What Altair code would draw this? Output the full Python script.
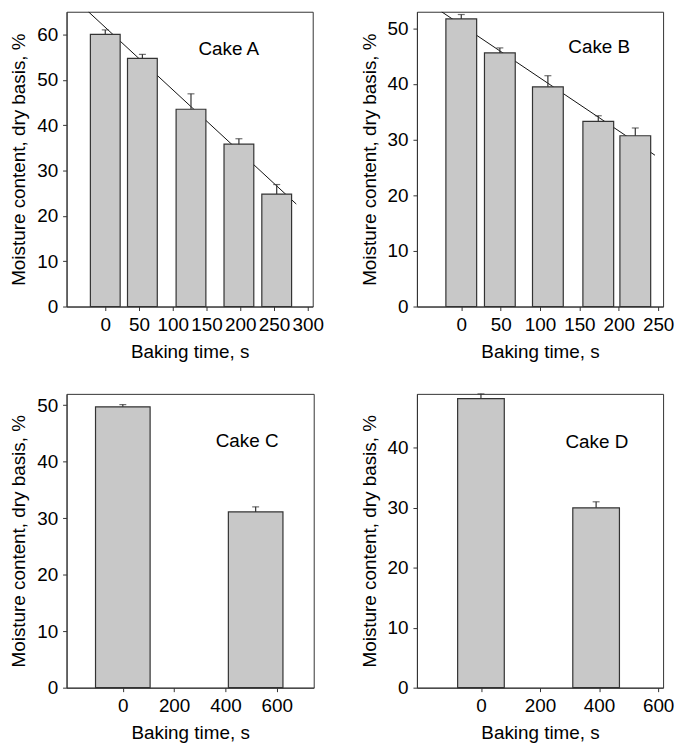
import altair as alt
import pandas as pd

FONT = "Liberation Sans"
INK = "#333333"
BAR_FILL = "#c8c8c8"

# ---- Cake A ----
a_time = [0, 55, 127, 198, 254]
a_moist = [60.0, 54.7, 43.5, 35.8, 24.8]
a_err = [1.0, 0.9, 3.4, 1.2, 2.1]
a_fit_x = [-25, 283]
a_fit_y = [65.0, 22.6]
a_xticks = [0, 50, 100, 150, 200, 250, 300]
a_yticks = [0, 10, 20, 30, 40, 50, 60]

# ---- Cake B ----
b_time = [0, 49, 110, 174, 221]
b_moist = [51.7, 45.6, 39.5, 33.3, 30.7]
b_err = [0.8, 0.9, 2.0, 1.0, 1.4]
b_fit_x = [-25, 246]
b_fit_y = [53.0, 27.2]
b_xticks = [0, 50, 100, 150, 200, 250]
b_yticks = [0, 10, 20, 30, 40, 50]

# ---- Cake C ----
c_time = [0, 518]
c_moist = [49.7, 31.1]
c_err = [0.4, 0.9]
c_xticks = [0, 200, 400, 600]
c_yticks = [0, 10, 20, 30, 40, 50]

# ---- Cake D ----
d_time = [0, 390]
d_moist = [48.2, 30.0]
d_err = [0.8, 1.0]
d_xticks = [0, 200, 400, 600]
d_yticks = [0, 10, 20, 30, 40]

XTITLE = "Baking time, s"
YTITLE = "Moisture content, dry basis, %"
FS = 19


def panel(time, moist, err, label, label_pos, xdom, xticks, ydom, yticks,
          w, h, barw, fit_x=None, fit_y=None):
    df = pd.DataFrame({"t": time, "m": moist,
                       "top": [m + e for m, e in zip(moist, err)]})

    def X(field):
        return alt.X(field, type="quantitative",
                     scale=alt.Scale(domain=xdom, nice=False, zero=False),
                     axis=alt.Axis(values=xticks, title=XTITLE))

    def Y(field):
        return alt.Y(field, type="quantitative",
                     scale=alt.Scale(domain=ydom, nice=False, zero=False),
                     axis=alt.Axis(values=yticks, title=YTITLE))

    layers = []
    if fit_x is not None:
        fdf = pd.DataFrame({"t": fit_x, "m": fit_y})
        layers.append(alt.Chart(fdf).mark_line(color="#111111", strokeWidth=1, clip=True)
                      .encode(x=X("t"), y=Y("m")))
    layers.append(alt.Chart(df).mark_bar(size=barw, fill=BAR_FILL, stroke=INK, strokeWidth=1.2)
                  .encode(x=X("t"), y=Y("m")))
    layers.append(alt.Chart(df).mark_rule(color=INK, strokeWidth=1.2)
                  .encode(x=X("t"), y=Y("m"), y2="top:Q"))
    layers.append(alt.Chart(df).mark_tick(orient="horizontal", size=7, thickness=1.2, color=INK)
                  .encode(x=X("t"), y=Y("top")))
    tdf = pd.DataFrame({"t": [label_pos[0]], "m": [label_pos[1]], "lab": [label]})
    layers.append(alt.Chart(tdf).mark_text(align="left", baseline="middle", fontSize=FS,
                                           font=FONT, color="#000000")
                  .encode(x=X("t"), y=Y("m"), text="lab:N"))
    return alt.layer(*layers).properties(width=w, height=h)


A = panel(a_time, a_moist, a_err, "Cake A", (138, 56.8), [-50, 300], a_xticks,
          [0, 65], a_yticks, 248, 297, 30, a_fit_x, a_fit_y)
B = panel(b_time, b_moist, b_err, "Cake B", (136, 46.6), [-50, 250], b_xticks,
          [0, 53], b_yticks, 248, 297, 31, b_fit_x, b_fit_y)
C = panel(c_time, c_moist, c_err, "Cake C", (362, 43.6), [-200, 725], c_xticks,
          [0, 52], c_yticks, 249, 296, 55)
D = panel(d_time, d_moist, d_err, "Cake D", (286, 41.0), [-200, 600], d_xticks,
          [0, 49], d_yticks, 248, 296, 47)

chart = (
    alt.concat(A, B, C, D, columns=2, spacing={"row": 88, "column": 104}, bounds="flush")
    .properties(padding={"left": 1, "top": 0, "right": 0, "bottom": 0})
    .configure_view(stroke=INK, strokeWidth=1)
    .configure_axis(labelFont=FONT, titleFont=FONT, labelFontSize=FS, titleFontSize=FS,
                    titleFontWeight="normal", labelColor="#000000", titleColor="#000000",
                    tickColor=INK, domainColor=INK, tickSize=4, grid=False,
                    labelPadding=5, titlePadding=8, labelFlush=False, labelOverlap=False)
)

chart.save("out.html", embed_options={"renderer": "svg", "actions": False})
